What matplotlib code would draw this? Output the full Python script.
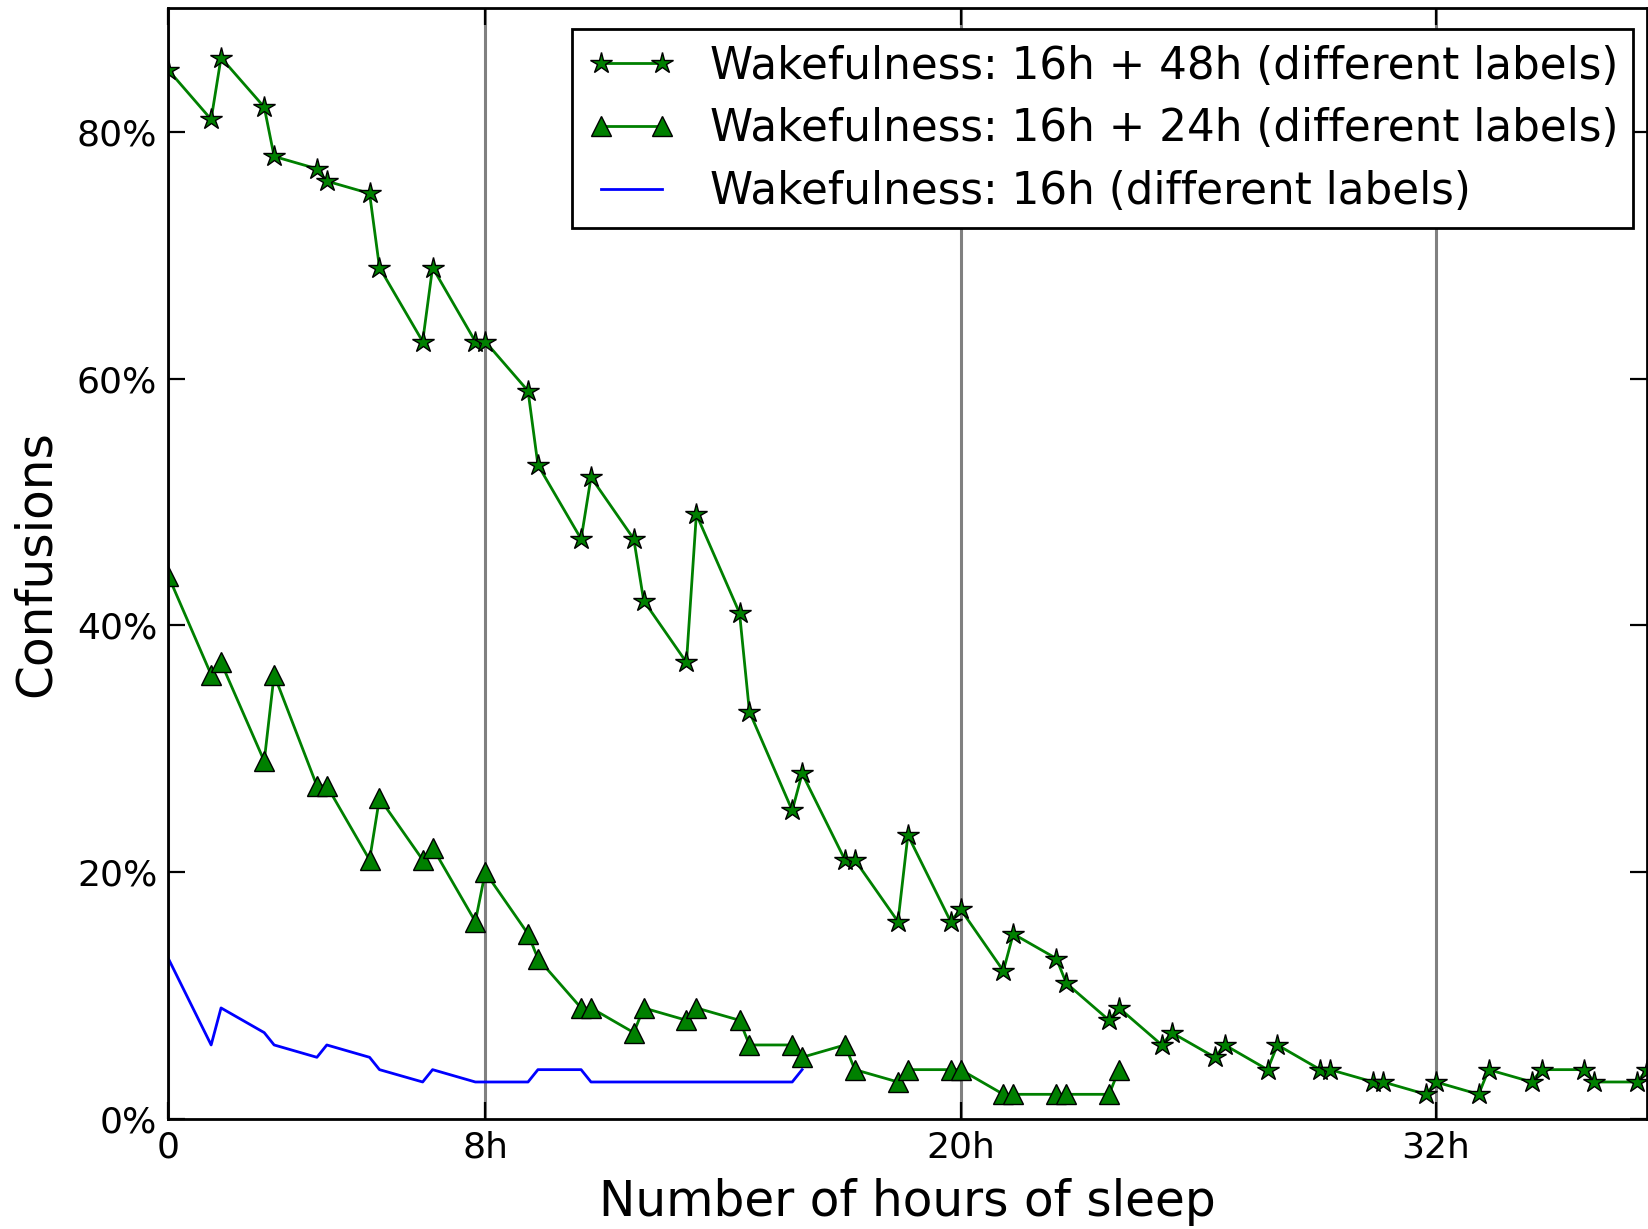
import matplotlib
matplotlib.use("Agg")
import matplotlib.pyplot as plt

# hours of sleep (grid of 80 min steps, each with a point 15 min before)
hours = [0.00,
         1.08, 1.33, 2.42, 2.67, 3.75, 4.00, 5.08, 5.33, 6.42, 6.67,
         7.75, 8.00, 9.08, 9.33, 10.42, 10.67, 11.75, 12.00, 13.08, 13.33,
         14.42, 14.67, 15.75, 16.00, 17.08, 17.33, 18.42, 18.67, 19.75, 20.00,
         21.08, 21.33, 22.42, 22.67, 23.75, 24.00, 25.08, 25.33, 26.42, 26.67,
         27.75, 28.00, 29.08, 29.33, 30.42, 30.67, 31.75, 32.00, 33.08, 33.33,
         34.42, 34.67, 35.75, 36.00, 37.08, 37.33]

# confusions in percent
wake_16_48 = [85,
              81, 86, 82, 78, 77, 76, 75, 69, 63, 69,
              63, 63, 59, 53, 47, 52, 47, 42, 37, 49,
              41, 33, 25, 28, 21, 21, 16, 23, 16, 17,
              12, 15, 13, 11, 8, 9, 6, 7, 5, 6,
              4, 6, 4, 4, 3, 3, 2, 3, 2, 4,
              3, 4, 4, 3, 3, 4]

wake_16_24 = [44,
              36, 37, 29, 36, 27, 27, 21, 26, 21, 22,
              16, 20, 15, 13, 9, 9, 7, 9, 8, 9,
              8, 6, 6, 5, 6, 4, 3, 4, 4, 4,
              2, 2, 2, 2, 2, 4]

wake_16 = [13,
           6, 9, 7, 6, 5, 6, 5, 4, 3, 4,
           3, 3, 3, 4, 4, 3, 3, 3, 3, 3,
           3, 3, 3, 4]

xticks = [0, 8, 20, 32]
xtick_labels = ["0", "8h", "20h", "32h"]
yticks = [0, 20, 40, 60, 80]

fig = plt.figure(figsize=(8.245, 6.145), dpi=200)
ax = fig.add_axes([0.1021, 0.0895, 0.8967, 0.9037])

ax.plot(hours[:len(wake_16_48)], wake_16_48, '-*', color=(0, 0.5, 0), lw=1.0,
        markersize=8, markeredgecolor='k', markeredgewidth=0.5,
        label="Wakefulness: 16h + 48h (different labels)")
ax.plot(hours[:len(wake_16_24)], wake_16_24, '-^', color=(0, 0.5, 0), lw=1.0,
        markersize=7, markeredgecolor='k', markeredgewidth=0.5,
        label="Wakefulness: 16h + 24h (different labels)")
ax.plot(hours[:len(wake_16)], wake_16, '-', color='b', lw=1.0,
        label="Wakefulness: 16h (different labels)")

ax.set_xlim(0, 37.33)
ax.set_ylim(0, 90)
ax.set_xticks(xticks)
ax.set_xticklabels(xtick_labels)
ax.set_yticks(yticks)
ax.set_yticklabels(["%d%%" % v for v in yticks])
ax.tick_params(direction='in', length=6, width=0.8, labelsize=13,
               top=True, right=True, pad=4)
ax.xaxis.grid(True, color='0.5', linestyle='-', linewidth=1.1)
ax.set_axisbelow(True)
for s in ax.spines.values():
    s.set_linewidth(1.0)

ax.set_xlabel("Number of hours of sleep", fontsize=17.5, labelpad=5)
ax.set_ylabel("Confusions", fontsize=17.5, labelpad=6)

leg = ax.legend(loc='upper right', bbox_to_anchor=(0.9908, 0.981),
                numpoints=2, fontsize=15.7, fancybox=False,
                framealpha=1, edgecolor='k', handlelength=2.0,
                handletextpad=0.8, labelspacing=0.45, borderpad=0.35,
                borderaxespad=0)
leg.get_frame().set_linewidth(1.0)

plt.savefig("out.png", dpi=200)
